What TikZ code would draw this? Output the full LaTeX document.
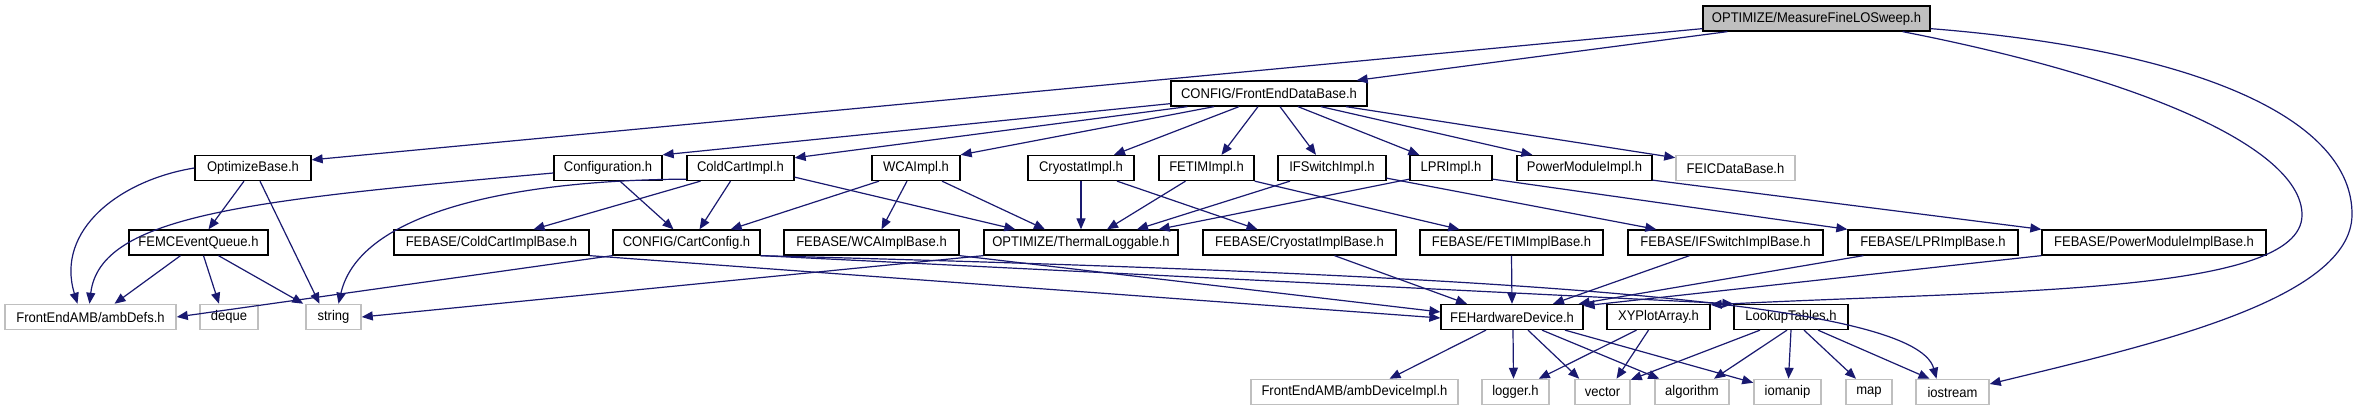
\documentclass[tikz,border=0pt]{standalone}
\usepackage{fontspec}
\setmainfont[FakeStretch=0.93]{Liberation Sans}
\usetikzlibrary{arrows.meta,calc}
\definecolor{edgeblue}{RGB}{25,25,112}
\definecolor{lgray}{RGB}{191,191,191}
\begin{document}
\begin{tikzpicture}[x=0.5pt,y=-0.5pt,
  box/.style={draw=black,line width=0.65pt,fill=white,rectangle,inner sep=0pt,
    minimum height=12.5pt,font=\fontsize{7}{8}\selectfont,text=black},
  ext/.style={box,draw=lgray,line width=0.75pt},
  mainbox/.style={box,fill=lgray},
  edge/.style={draw=edgeblue,line width=0.6pt,-{Triangle[length=5.5pt,width=4.5pt]}},
]
\fill[white] (0,0) rectangle (2357,411);
\useasboundingbox (0,0) rectangle (2357,411);
% row 0
\node[mainbox,minimum width=113.5pt] (M) at (1816.5,18.5) {OPTIMIZE/MeasureFineLOSweep.h};
% row 1
\node[box,minimum width=98pt] (FDB) at (1269,93.5) {CONFIG/FrontEndDataBase.h};
% row 2
\node[box,minimum width=58pt] (OB) at (253,168) {OptimizeBase.h};
\node[box,minimum width=54pt] (CONF) at (608,168) {Configuration.h};
\node[box,minimum width=53.5pt] (CCI) at (740.5,168) {ColdCartImpl.h};
\node[box,minimum width=44pt] (WCA) at (916,168) {WCAImpl.h};
\node[box,minimum width=53pt] (CRY) at (1081,168) {CryostatImpl.h};
\node[box,minimum width=47.5pt] (FETIM) at (1206.5,168) {FETIMImpl.h};
\node[box,minimum width=54pt] (IFS) at (1332,168) {IFSwitchImpl.h};
\node[box,minimum width=41pt] (LPR) at (1451,168) {LPRImpl.h};
\node[box,minimum width=67.5pt] (PM) at (1584.5,168) {PowerModuleImpl.h};
\node[ext,minimum width=59.5pt] (FEIC) at (1735.5,168) {FEICDataBase.h};
% row 3
\node[box,minimum width=69.5pt] (FEMC) at (198.5,242.5) {FEMCEventQueue.h};
\node[box,minimum width=97.5pt] (CCIB) at (491.5,242.5) {FEBASE/ColdCartImplBase.h};
\node[box,minimum width=73.5pt] (CC) at (686.5,242.5) {CONFIG/CartConfig.h};
\node[box,minimum width=87.5pt] (WCAB) at (871.5,242.5) {FEBASE/WCAImplBase.h};
\node[box,minimum width=97pt] (TL) at (1081,242.5) {OPTIMIZE/ThermalLoggable.h};
\node[box,minimum width=96.5pt] (CRYB) at (1299.5,242.5) {FEBASE/CryostatImplBase.h};
\node[box,minimum width=91.5pt] (FETIMB) at (1511.5,242.5) {FEBASE/FETIMImplBase.h};
\node[box,minimum width=97.5pt] (IFSB) at (1725.5,242.5) {FEBASE/IFSwitchImplBase.h};
\node[box,minimum width=85pt] (LPRB) at (1933,242.5) {FEBASE/LPRImplBase.h};
\node[box,minimum width=112pt] (PMB) at (2154,242.5) {FEBASE/PowerModuleImplBase.h};
% row 4
\node[ext,minimum width=85.5pt] (AMB) at (90.5,317) {FrontEndAMB/ambDefs.h};
\node[ext,minimum width=29pt] (DEQ) at (229,317) {deque};
\node[ext,minimum width=27.5pt] (STR) at (333.5,317) {string};
\node[box,minimum width=71pt] (FEHW) at (1512,317) {FEHardwareDevice.h};
\node[box,minimum width=51.5pt] (XY) at (1658.5,317) {XYPlotArray.h};
\node[box,minimum width=57pt] (LT) at (1791,317) {LookupTables.h};
% row 5
\node[ext,minimum width=103.5pt] (AMBD) at (1354.5,392) {FrontEndAMB/ambDeviceImpl.h};
\node[ext,minimum width=33.5pt] (LOG) at (1515.5,392) {logger.h};
\node[ext,minimum width=27.5pt] (VEC) at (1602.5,392) {vector};
\node[ext,minimum width=37pt] (ALG) at (1692,392) {algorithm};
\node[ext,minimum width=33.5pt] (IOM) at (1787.5,392) {iomanip};
\node[ext,minimum width=23pt] (MAP) at (1869,392) {map};
\node[ext,minimum width=36.5pt] (IOS) at (1952.5,392) {iostream};
% waypoints
\coordinate (wxy) at (2302,215);
\coordinate (wios) at (2352,215);
% edges from M
\draw[edge] ($(M.south west)+(25,0)$) -- ($(FDB.north east)+(-11,0)$);
\draw[edge] ($(M.south west)+(0,-3)$) -- ($(OB.north east)+(0,5)$);
\draw[edge] ($(M.south east)+(-28,0)$) .. controls (2150,80) and (2302,150) .. (wxy)
   .. controls (2302,295) and (2000,290) .. ($(XY.north east)+(0,1)$);
\draw[edge] ($(M.south east)+(0,-3)$) .. controls (2200,50) and (2353,120) .. (wios)
   .. controls (2351,300) and (2150,345) .. ($(IOS.east)+(0,-8)$);
% edges from FDB
\draw[edge] ($(FDB.south west)+(0,-3)$) -- (CONF.north east);
\draw[edge] ($(FDB.south west)+(17,0)$) -- ($(CCI.north east)+(0,3)$);
\draw[edge] ($(FDB.south)+(-55,0)$) -- (WCA.north east);
\draw[edge] ($(FDB.south)+(-30,0)$) -- ($(CRY.north)+(33,0)$);
\draw[edge] ($(FDB.south)+(-11,0)$) -- ($(FETIM.north)+(15,0)$);
\draw[edge] ($(FDB.south)+(11,0)$) -- ($(IFS.north)+(-16,0)$);
\draw[edge] ($(FDB.south)+(29,0)$) -- ($(LPR.north west)+(10,0)$);
\draw[edge] ($(FDB.south)+(52,0)$) -- ($(PM.north west)+(16,0)$);
\draw[edge] ($(FDB.south)+(77,0)$) -- ($(FEIC.north west)+(0,3)$);
% edges from row 2
\draw[edge] (OB.west) .. controls (120,180) and (55,230) .. ($(AMB.north)+(-13,0)$);
\draw[edge] ($(OB.south)+(-9,0)$) -- ($(FEMC.north)+(10,0)$);
\draw[edge] ($(OB.south)+(7,0)$) -- ($(STR.north)+(-14,0)$);
\draw[edge] ($(CONF.west)+(0,5)$) .. controls (250,200) and (100,215) .. ($(AMB.north)+(-1,0)$);
\draw[edge] ($(CONF.south)+(12,0)$) -- ($(CC.north)+(-13,0)$);
\draw[edge] ($(CCI.south west)+(0,-2)$) .. controls (520,180) and (360,210) .. ($(STR.north)+(5,0)$);
\draw[edge] ($(CCI.south)+(-40,0)$) -- ($(CCIB.north)+(42,0)$);
\draw[edge] ($(CCI.south)+(-10,0)$) -- ($(CC.north)+(13,0)$);
\draw[edge] ($(CCI.south east)+(0,-4)$) -- ($(TL.north west)+(32,0)$);
\draw[edge] ($(WCA.south)+(-37,0)$) -- ($(CC.north east)+(-30,0)$);
\draw[edge] ($(WCA.south)+(-9,0)$) -- ($(WCAB.north)+(10,0)$);
\draw[edge] ($(WCA.south)+(26,0)$) -- ($(TL.north)+(-36,0)$);
\draw[edge] (CRY.south) -- (TL.north);
\draw[edge] ($(CRY.south)+(36,0)$) -- ($(CRYB.north)+(-42,0)$);
\draw[edge] ($(FETIM.south)+(-21,0)$) -- ($(TL.north)+(26,0)$);
\draw[edge] (FETIM.south east) -- ($(FETIMB.north west)+(40,0)$);
\draw[edge] ($(IFS.south)+(-42,0)$) -- ($(TL.north)+(56,0)$);
\draw[edge] ($(IFS.south east)+(0,-3)$) -- ($(IFSB.north west)+(29,0)$);
\draw[edge] ($(LPR.south west)+(0,-2)$) -- ($(TL.north east)+(-20,0)$);
\draw[edge] ($(LPR.south east)+(0,-2)$) -- (LPRB.north west);
\draw[edge] ($(PM.south east)+(0,-1)$) -- (PMB.north west);
% edges from row 3
\draw[edge] ($(FEMC.south)+(-18,0)$) -- ($(AMB.north)+(24,0)$);
\draw[edge] ($(FEMC.south)+(5,0)$) -- ($(DEQ.north)+(-10,0)$);
\draw[edge] ($(FEMC.south)+(20,0)$) -- ($(STR.north west)+(-2,0)$);
\draw[edge] (CC.south west) -- (AMB.east);
\draw[edge] (CC.south east) -- (LT.north west);
\draw[edge] (CC.south east) .. controls (1500,275) and (1915,300) .. ($(IOS.north)+(-16,0)$);
\draw[edge] (CCIB.south east) -- ($(FEHW.west)+(0,1)$);
\draw[edge] (WCAB.south east) -- ($(FEHW.west)+(0,-5)$);
\draw[edge] (TL.south west) -- (STR.east);
\draw[edge] ($(CRYB.south)+(35,0)$) -- ($(FEHW.north)+(-45,0)$);
\draw[edge] (FETIMB.south) -- (FEHW.north);
\draw[edge] ($(IFSB.south)+(-36,0)$) -- ($(FEHW.north)+(41,0)$);
\draw[edge] ($(LPRB.south west)+(16,0)$) -- ($(FEHW.north east)+(-5,0)$);
\draw[edge] (PMB.south west) -- ($(FEHW.north east)+(0,2)$);
% edges from row 4
\draw[edge] ($(FEHW.south)+(-26,0)$) -- ($(AMBD.north)+(35,0)$);
\draw[edge] ($(FEHW.south)+(1,0)$) -- ($(LOG.north)+(-2,0)$);
\draw[edge] ($(FEHW.south)+(16,0)$) -- ($(VEC.north west)+(5,0)$);
\draw[edge] ($(FEHW.south)+(30,0)$) -- ($(ALG.north west)+(5,0)$);
\draw[edge] ($(FEHW.south)+(53,0)$) -- ($(IOM.north west)+(0,4)$);
\draw[edge] ($(XY.south)+(-22,0)$) -- ($(LOG.north east)+(-11,0)$);
\draw[edge] ($(XY.south)+(-10,0)$) -- ($(VEC.north)+(14,0)$);
\draw[edge] ($(LT.south)+(-31,0)$) -- ($(VEC.north east)+(0,1)$);
\draw[edge] ($(LT.south)+(-4,0)$) -- ($(ALG.north)+(22,0)$);
\draw[edge] (LT.south) -- ($(IOM.north)+(1,0)$);
\draw[edge] ($(LT.south)+(13,0)$) -- ($(MAP.north)+(-13,0)$);
\draw[edge] ($(LT.south)+(27,0)$) -- ($(IOS.north)+(-23,0)$);
\end{tikzpicture}
\end{document}
